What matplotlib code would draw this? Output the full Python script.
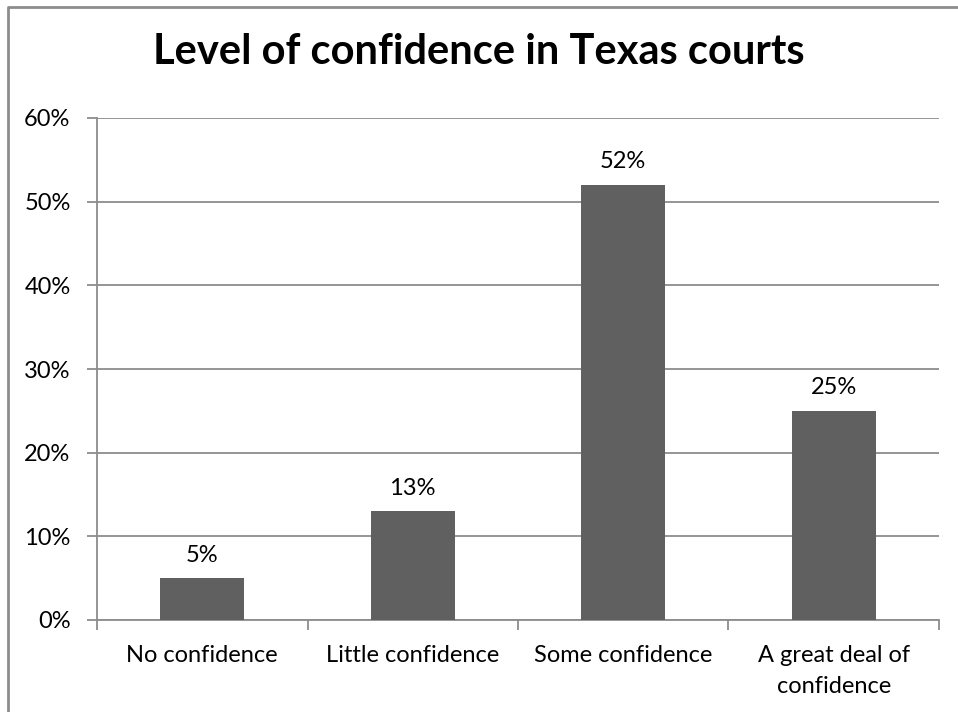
import numpy as np
import matplotlib.pyplot as plt
from matplotlib.lines import Line2D
from matplotlib.ticker import FixedLocator, FuncFormatter

plt.rcParams['font.family'] = ['Lato', 'DejaVu Sans']

# данные с картинки
categories = ['No confidence', 'Little confidence', 'Some confidence',
              'A great deal of\nconfidence']
values = [5, 13, 52, 25]
y_ticks = [0, 10, 20, 30, 40, 50, 60]

W, H = 958, 712
fig = plt.figure(figsize=(W / 100, H / 100), dpi=100)
ax = fig.add_axes([97 / W, 1 - 620 / H, (939 - 97) / W, (620 - 118) / H])

x = np.arange(len(categories))
ax.bar(x, values, width=0.4, color='#606060', zorder=3)
for xi, v in zip(x, values):
    ax.annotate(f'{v}%', (xi, v), xytext=(0, 9), textcoords='offset points',
                ha='center', va='bottom', fontsize=17, color='black')

ax.set_xlim(-0.5, len(categories) - 0.5)
ax.set_ylim(0, 60)
ax.set_yticks(y_ticks)
ax.yaxis.set_major_formatter(FuncFormatter(lambda v, p: f'{v:.0f}%'))
ax.yaxis.grid(True, color='#8c8c8c', linewidth=1.3, zorder=0)

# подписи категорий по центрам, тики на границах
ax.xaxis.set_major_locator(FixedLocator(np.arange(-0.5, len(categories), 1.0)))
ax.xaxis.set_major_formatter(FuncFormatter(lambda v, p: ''))
ax.xaxis.set_minor_locator(FixedLocator(x))
ax.set_xticklabels(categories, minor=True, linespacing=1.6)
ax.tick_params(axis='x', which='minor', length=0, pad=18, labelsize=17)
ax.tick_params(axis='x', which='major', length=7, width=1.3, color='#8c8c8c')
ax.tick_params(axis='y', length=7, width=1.3, color='#8c8c8c', labelsize=17, pad=12)

for side in ['top', 'right']:
    ax.spines[side].set_visible(False)
for side in ['left', 'bottom']:
    ax.spines[side].set_color('#8c8c8c')
    ax.spines[side].set_linewidth(1.3)

fig.text(0.5, 1 - 52 / H, 'Level of confidence in Texas courts', ha='center',
         va='center', fontsize=30, fontweight='bold')

# рамка вокруг диаграммы
fig.add_artist(Line2D([8 / W, 8 / W, 1.0], [0.0, 1 - 7 / H, 1 - 7 / H],
                      transform=fig.transFigure, color='#8c8c8c', linewidth=2))

fig.savefig('out.png', dpi=100)
